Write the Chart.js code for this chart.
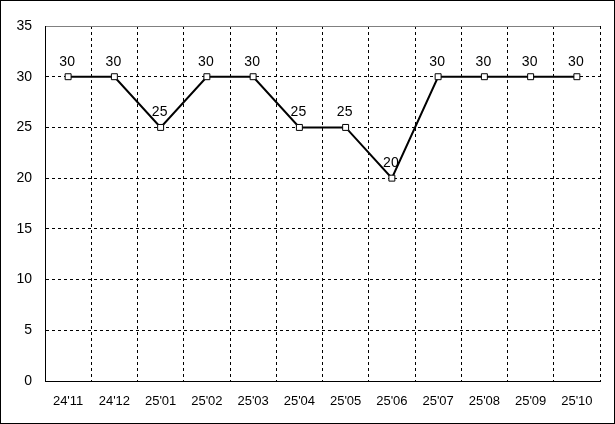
<!DOCTYPE html>
<html>
<head>
<meta charset="utf-8">
<script src="https://cdn.jsdelivr.net/npm/chart.js@4/dist/chart.umd.min.js"></script>
<style>
  html, body { margin: 0; padding: 0; background: #fff; }
  #wrap { width: 615px; height: 424px; }
</style>
</head>
<body>
<div id="wrap"><canvas id="chart" width="615" height="424"></canvas></div>
<script>
const months = ["24'11", "24'12", "25'01", "25'02", "25'03", "25'04", "25'05", "25'06", "25'07", "25'08", "25'09", "25'10"];
const values = [30, 30, 25, 30, 30, 25, 25, 20, 30, 30, 30, 30];
const yTicks = [0, 5, 10, 15, 20, 25, 30, 35];

const fontFamily = '"Liberation Sans", Arial, sans-serif';

// white background + outer black frame
const framePlugin = {
    id: 'frame',
    beforeDraw(chart) {
        const ctx = chart.ctx;
        ctx.save();
        ctx.fillStyle = '#fff';
        ctx.fillRect(0, 0, chart.width, chart.height);
        ctx.restore();
    },
    afterDraw(chart) {
        const ctx = chart.ctx;
        ctx.save();
        ctx.strokeStyle = '#000';
        ctx.lineWidth = 1;
        ctx.strokeRect(0.5, 0.5, chart.width - 1, chart.height - 1);
        ctx.restore();
    }
};

// value labels above each point
const valueLabels = {
    id: 'valueLabels',
    afterDatasetsDraw(chart) {
        const ctx = chart.ctx;
        const meta = chart.getDatasetMeta(0);
        ctx.save();
        ctx.font = '14px ' + fontFamily;
        ctx.fillStyle = '#000';
        ctx.textAlign = 'center';
        ctx.textBaseline = 'middle';
        meta.data.forEach((pt, i) => {
            ctx.fillText(String(values[i]), pt.x - 1, pt.y - 15);
        });
        ctx.restore();
    }
};

new Chart(document.getElementById('chart'), {
    type: 'line',
    data: {
        labels: months,
        datasets: [{
            data: values,
            borderColor: '#000',
            borderWidth: 2,
            tension: 0,
            pointStyle: 'rect',
            pointRadius: 4.2,
            pointBorderWidth: 1,
            pointBorderColor: '#000',
            pointBackgroundColor: '#fff'
        }]
    },
    options: {
        responsive: false,
        animation: false,
        events: [],
        layout: { padding: { top: 26, right: 15, left: 0, bottom: 0 } },
        plugins: {
            legend: { display: false },
            tooltip: { enabled: false }
        },
        scales: {
            x: {
                offset: true,
                grid: {
                    offset: true,
                    drawTicks: false,
                    color: ctx => ctx.index === months.length ? '#808080' : '#000',
                    lineWidth: 1
                },
                border: {
                    color: '#000',
                    width: 1,
                    dash: ctx => ctx.index === months.length ? [] : [3, 3]
                },
                ticks: {
                    color: '#000',
                    padding: 13,
                    maxRotation: 0,
                    font: { family: fontFamily, size: 13 }
                },
                afterFit: s => { s.height = 43; }
            },
            y: {
                min: 0,
                max: 35,
                afterBuildTicks: s => { s.ticks = yTicks.map(v => ({ value: v })); },
                grid: {
                    drawTicks: false,
                    color: ctx => ctx.tick && ctx.tick.value === 35 ? '#808080' : '#000',
                    lineWidth: 1
                },
                border: {
                    color: '#000',
                    width: 1,
                    dash: ctx => ctx.tick && ctx.tick.value === 35 ? [] : [3, 3]
                },
                ticks: {
                    color: '#000',
                    padding: 13,
                    font: { family: fontFamily, size: 14 }
                },
                afterFit: s => { s.width = 45; }
            }
        }
    },
    plugins: [framePlugin, valueLabels]
});
</script>
</body>
</html>
